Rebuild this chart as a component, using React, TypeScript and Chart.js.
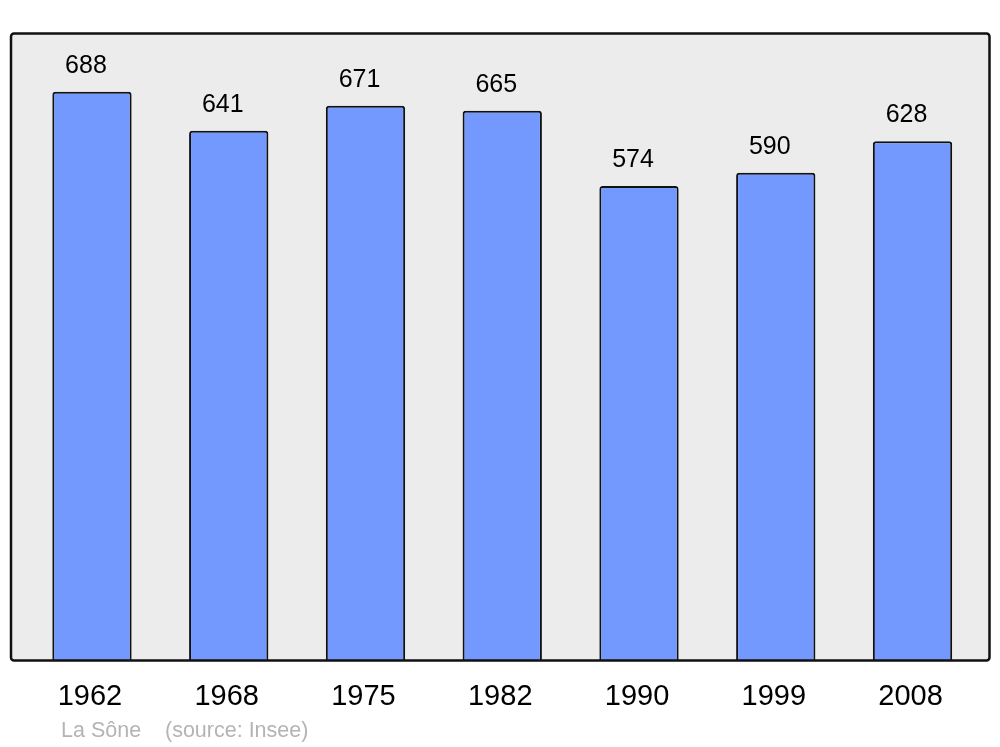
import React, { useEffect, useRef } from "react";
import { Chart, registerables } from "chart.js";

Chart.register(...registerables);

const years = ["1962", "1968", "1975", "1982", "1990", "1999", "2008"];
const population = [688, 641, 671, 665, 574, 590, 628];
const placeLabel = "La Sône";
const sourceLabel = "(source: Insee)";

const framePlugin = {
  id: "frame",
  beforeDatasetsDraw(chart: any) {
    const ctx = chart.ctx;
    const a = chart.chartArea;
    const x0 = a.left - 12.6, x1 = a.right + 8.6, y0 = a.top - 0.5, y1 = a.bottom + 0.5;
    ctx.save();
    ctx.beginPath();
    ctx.roundRect(x0, y0, x1 - x0, y1 - y0, 3);
    ctx.fillStyle = "#ececec";
    ctx.fill();
    ctx.restore();
  },
  afterDatasetsDraw(chart: any) {
    const ctx = chart.ctx;
    const a = chart.chartArea;
    const x0 = a.left - 12.6, x1 = a.right + 8.6, y0 = a.top - 0.5, y1 = a.bottom + 0.5;
    ctx.save();
    ctx.beginPath();
    ctx.roundRect(x0, y0, x1 - x0, y1 - y0, 3);
    ctx.lineWidth = 2.5;
    ctx.strokeStyle = "#111";
    ctx.stroke();

    const xs = chart.scales.x;
    const ys = chart.scales.y;
    ctx.fillStyle = "#000";
    ctx.textAlign = "center";
    ctx.textBaseline = "middle";
    ctx.font = "25px 'Liberation Sans', Arial, sans-serif";
    population.forEach((v, i) => {
      const x = xs.getPixelForValue(i) - 6;
      const y = ys.getPixelForValue(v) - 26;
      ctx.fillText(String(v), x, y);
    });
    ctx.font = "29px 'Liberation Sans', Arial, sans-serif";
    years.forEach((yr, i) => {
      const x = xs.getPixelForValue(i) - 2;
      ctx.fillText(yr, x, a.bottom + 37);
    });
    ctx.textAlign = "left";
    ctx.fillStyle = "#b4b4b4";
    ctx.font = "21.5px 'Liberation Sans', Arial, sans-serif";
    ctx.fillText(placeLabel, 61, a.bottom + 71);
    ctx.fillText(sourceLabel, 165, a.bottom + 71);
    ctx.restore();
  },
};

export default function App() {
  const ref = useRef<HTMLCanvasElement>(null);
  useEffect(() => {
    document.body.style.margin = "0";
    const chart = new Chart(ref.current!, {
      type: "bar",
      data: {
        labels: years,
        datasets: [
          {
            data: population,
            backgroundColor: "#7399ff",
            borderColor: "#111",
            borderWidth: 2,
            borderSkipped: "bottom",
            borderRadius: { topLeft: 3, topRight: 3, bottomLeft: 0, bottomRight: 0 },
            categoryPercentage: 1,
            barPercentage: 0.58,
          },
        ],
      },
      options: {
        animation: false,
        responsive: false,
        maintainAspectRatio: false,
        layout: { padding: { left: 23.6, right: 19.1, top: 34, bottom: 87 } },
        plugins: { legend: { display: false }, tooltip: { enabled: false }, title: { display: false } },
        scales: {
          x: { display: false },
          y: { display: false, min: 0, max: 758 },
        },
      },
      plugins: [framePlugin],
    });
    return () => chart.destroy();
  }, []);
  return (
    <div style={{ position: "absolute", left: 0, top: 0, width: 1000, height: 747 }}>
      <canvas ref={ref} width={1000} height={747} style={{ width: 1000, height: 747 }} />
    </div>
  );
}
